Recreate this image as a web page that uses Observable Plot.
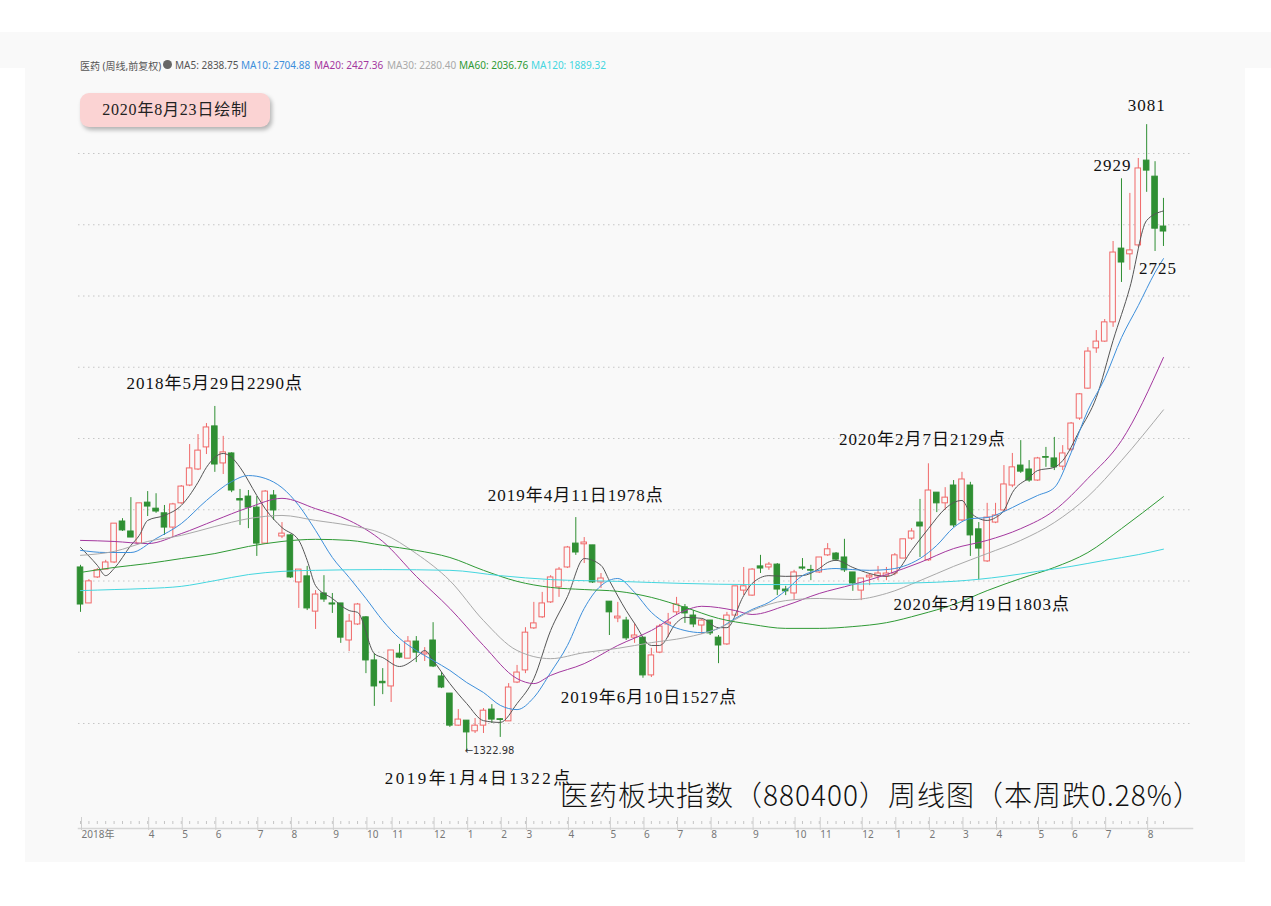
<!DOCTYPE html>
<html>
<head>
<meta charset="utf-8">
<script src="https://cdn.jsdelivr.net/npm/d3@7"></script>
<script src="https://cdn.jsdelivr.net/npm/@observablehq/plot@0.6"></script>
<style>
  body { margin: 0; background: #fff; }
  #page { position: relative; width: 1271px; height: 906px; overflow: hidden; background: #fff; }
  #topband { position: absolute; left: 0; top: 32px; width: 1271px; height: 36px; background: #f9f9f9; }
  #panel { position: absolute; left: 25px; top: 60px; width: 1220px; height: 802px; background: #f9f9f9; }
  #chart { position: absolute; left: 0; top: 0; }
  .hdr { position: absolute; top: 58px; font-size: 10px; white-space: nowrap; font-family: "Noto Sans", "Noto Sans CJK SC", sans-serif; color: #555; }
  #dot { position: absolute; left: 163px; top: 60px; width: 9px; height: 9px; border-radius: 50%; background: #666; }
  #badge { position: absolute; left: 80px; top: 93px; width: 190px; height: 34px; border-radius: 9px; background: #fbd3d3;
           box-shadow: 2px 3px 4px rgba(0,0,0,0.28); text-align: center; line-height: 34px;
           font-family: "Liberation Serif", "Noto Sans CJK SC", serif; font-size: 16px; color: #222; letter-spacing: 0.8px; }
  #title { position: absolute; left: 560px; top: 774px; white-space: nowrap; font-family: "Noto Sans CJK SC", sans-serif;
           font-size: 28px; font-weight: 300; color: #111; letter-spacing: 1px; }
  .anno text { letter-spacing: 1px; }
  .annoWide text { letter-spacing: 2.5px; }
</style>
</head>
<body>
<div id="page">
  <div id="topband"></div>
  <div id="panel"></div>
  <div id="chart"></div>
  <div id="hdrs"></div>
  <div id="dot"></div>
  <div id="badge"></div>
  <div id="title"></div>
</div>
<script>
// ---------- weekly OHLC (index 0 = first week of Feb 2018 … index 129 = week ending 2020-08-21)
const open = [1838,1737,1810,1832,1852,1967,1939,1905,2020,2003,1990,1950,2018,2068,2113,2175,2234,2130,2158,2030,
  2037,2006,1905,2040,1925,1928,1796,1813,1714,1765,1737,1737,1633,1678,1698,1577,1517,1504,1596,1582,
  1630,1594,1633,1532,1484,1394,1408,1378,1394,1439,1412,1406,1515,1549,1667,1698,1740,1782,1838,1905,
  1903,1900,1796,1742,1695,1689,1641,1641,1535,1599,1678,1712,1726,1703,1675,1689,1641,1622,1703,1773,
  1759,1841,1838,1846,1776,1765,1838,1831,1824,1872,1877,1866,1824,1773,1810,1813,1813,1821,1863,1919,
  1964,1858,2048,2018,2068,1970,2068,1945,1855,1964,1998,2068,2124,2113,2082,2148,2144,2121,2169,2256,
  2340,2453,2472,2526,2733,2717,2742,2980,2935,2795];
const high = [1844,1804,1835,1858,1961,1975,2034,2018,2051,2045,2012,2018,2068,2183,2211,2242,2290,2206,2160,2057,
  2054,2037,2054,2054,1964,1931,1832,1841,1773,1815,1765,1737,1706,1737,1700,1596,1554,1605,1622,1644,
  1644,1613,1683,1543,1484,1439,1408,1414,1442,1453,1414,1512,1563,1669,1740,1768,1815,1838,1897,1978,
  1922,1900,1821,1742,1740,1698,1681,1641,1611,1678,1709,1754,1734,1717,1692,1689,1647,1712,1785,1838,
  1835,1872,1852,1849,1785,1830,1863,1844,1866,1905,1880,1917,1824,1807,1821,1841,1838,1877,1917,1947,
  2029,2129,2048,2062,2082,2105,2077,1964,2018,2018,2124,2158,2194,2138,2147,2175,2203,2180,2245,2326,
  2455,2503,2534,2753,2929,2888,2986,3081,2977,2874];
const low = [1712,1737,1807,1832,1849,1939,1922,1905,1981,1990,1928,1922,2015,2065,2110,2155,2105,2099,2048,1956,
  1947,1869,1903,1970,1919,1807,1723,1717,1664,1740,1709,1625,1602,1675,1540,1448,1481,1459,1582,1582,
  1571,1574,1557,1498,1389,1392,1322.98,1372,1372,1400,1361,1406,1512,1540,1664,1695,1737,1754,1835,1872,
  1849,1793,1779,1647,1683,1633,1625,1527,1529,1596,1641,1703,1681,1669,1650,1647,1568,1619,1703,1759,
  1757,1821,1830,1759,1759,1745,1830,1801,1821,1869,1855,1824,1771,1745,1787,1801,1801,1815,1863,1914,
  1866,1855,1992,1998,1950,1967,1869,1803,1852,1961,1992,2062,2102,2077,2080,2119,2110,2110,2163,2251,
  2338,2439,2470,2512,2638,2672,2736,2891,2725,2739];
const close = [1734,1799,1830,1852,1961,1942,1922,2018,2009,1995,1950,2015,2065,2116,2166,2231,2127,2161,2054,2026,
  2006,1905,2051,1998,1933,1810,1832,1723,1762,1748,1734,1641,1686,1734,1577,1504,1513,1605,1585,1630,
  1599,1599,1560,1501,1394,1411,1375,1394,1436,1411,1410,1501,1543,1655,1681,1737,1810,1832,1894,1880,
  1908,1796,1807,1712,1700,1639,1647,1535,1591,1672,1683,1734,1709,1678,1689,1653,1619,1703,1785,1785,
  1832,1835,1846,1776,1771,1824,1835,1829,1866,1889,1860,1830,1793,1807,1815,1821,1821,1872,1917,1939,
  1953,2054,2018,2034,1956,2085,1928,1891,1978,1984,2071,2119,2107,2082,2144,2146,2119,2158,2242,2324,
  2444,2472,2526,2722,2694,2728,2958,2952,2789,2781];

// ---------- moving averages at the listed week indices
const ma5Idx = [0,2,3,4,6,7,8,10,12,14,15,17,18,19,21,22,24,26,27,28,30,32,33,35,36,38,40,41,42,44,46,48,50,52,54,56,58,60,62,63,
  65,66,68,69,71,72,74,76,77,79,80,82,84,86,88,89,90,92,94,96,97,99,101,103,104,105,106,108,109,110,111,113,114,116,117,119,121,123,125,127,129];
const ma5Val = [1894,1844,1815,1835,1900,1928,1970,1984,2012,2077,2119,2158,2147,2119,2040,2003,1950,1914,1858,1787,
  1751,1717,1712,1596,1585,1560,1585,1605,1577,1512,1456,1408,1403,1456,1526,1661,1756,1863,1844,1801,
  1717,1681,1619,1619,1683,1698,1695,1669,1669,1759,1793,1815,1813,1815,1835,1852,1858,1838,1821,1813,
  1821,1886,1947,2003,2020,2026,1992,1970,1978,1998,2048,2090,2110,2119,2138,2222,2315,2475,2624,2812,2838.75];
const ma10Idx = [0,3,6,9,12,15,18,20,22,24,26,28,30,32,34,36,38,40,42,44,46,48,50,52,54,56,58,60,62,64,66,68,70,72,74,76,78,80,
  82,84,86,88,90,92,94,96,98,100,102,104,106,108,110,112,114,116,118,120,122,124,126,128,129];
const ma10Val = [1886,1880,1880,1919,1961,2026,2079,2096,2088,2062,2012,1942,1866,1810,1751,1689,1639,1605,1577,1549,
  1515,1487,1451,1439,1473,1543,1619,1723,1787,1807,1768,1712,1678,1661,1655,1667,1695,1720,1740,1773,
  1815,1830,1835,1832,1830,1832,1841,1863,1900,1950,1975,1978,1995,2018,2040,2062,2160,2279,2368,2483,2573,2666,2704.88];
const ma20Idx = [0,4,8,12,16,20,24,28,32,36,40,44,48,52,54,56,60,64,68,72,74,78,80,84,88,92,96,100,104,108,112,116,120,124,129];
const ma20Val = [1914,1911,1905,1933,1970,2006,2032,2003,1970,1911,1813,1723,1619,1526,1512,1535,1568,1619,1661,1717,
  1729,1717,1706,1731,1765,1790,1818,1852,1891,1914,1947,1998,2088,2194,2427.36];
const ma30Idx = [0,4,8,12,16,20,24,28,32,36,40,44,48,52,56,60,64,68,72,76,80,84,88,92,96,100,104,108,112,116,120,124,129];
const ma30Val = [1872,1883,1911,1928,1953,1975,1984,1970,1956,1933,1877,1801,1689,1605,1582,1599,1611,1627,1641,1667,
  1717,1745,1751,1748,1765,1801,1841,1877,1914,1964,2037,2138,2280.40];
const ma60Idx = [0,4,8,12,16,20,24,28,32,36,40,44,48,52,56,60,64,68,72,76,80,84,88,92,96,100,104,108,112,116,120,124,129];
const ma60Val = [1824,1838,1849,1863,1877,1897,1911,1917,1914,1900,1886,1866,1830,1799,1782,1776,1771,1754,1726,1695,
  1678,1667,1667,1672,1683,1706,1734,1773,1807,1838,1880,1947,2036.76];
const ma120Idx = [0,4,8,12,16,20,24,28,36,44,50,56,64,72,80,88,96,104,110,114,118,122,126,129];
const ma120Val = [1773,1776,1779,1785,1801,1818,1827,1830,1832,1830,1815,1804,1799,1793,1790,1790,1793,1799,1813,1827,
  1841,1858,1874,1889.32];

// ---------- legend / header
const maNames = ["MA5","MA10","MA20","MA30","MA60","MA120"];
const maLast = ["2838.75","2704.88","2427.36","2280.40","2036.76","1889.32"];
const maColors = ["#555555","#3d8fdb","#a4389f","#a9a9a9","#2f9a35","#44d6df"];

// ---------- axis tick labels
const monthIdx = [0,8,12,16,21,25,30,34,37,42,46,50,53,58,63,67,71,75,80,85,88,93,97,101,105,109,114,118,122,127];
const monthLabels = ["2018年","4","5","6","7","8","9","10","11","12","1","2","3","4","5","6","7","8","9","10","11","12","1","2","3","4","5","6","7","8"];
const gridValues = [1400,1600,1800,2000,2200,2400,2600,2800,3000];

// ---------- annotations
const annoText = ["2018年5月29日2290点","2019年4月11日1978点","2020年2月7日2129点","2020年3月19日1803点",
  "2019年6月10日1527点","2019年1月4日1322点","3081","2929","2725"];
const annoIdx = [16,59,101,107,67,46,127,124,128];
const annoVal = [2290,1978,2129,1803,1527,1322,3081,2929,2725];
const lowMarkText = "←1322.98";
const titleText = "医药板块指数（880400）周线图（本周跌0.28%）";
const badgeText = "2020年8月23日绘制";
const headerText = "医药 (周线,前复权)";

// ---------- build
const RED = "#f06868", GREEN = "#2f8f33", BG = "#f9f9f9";
const candles = open.map((o, i) => ({i, open: o, high: high[i], low: low[i], close: close[i], up: close[i] >= o}));
const maSeries = [[ma5Idx, ma5Val],[ma10Idx, ma10Val],[ma20Idx, ma20Val],[ma30Idx, ma30Val],[ma60Idx, ma60Val],[ma120Idx, ma120Val]];
const labelOf = new Map(monthIdx.map((d, k) => [d, monthLabels[k]]));
const serif = "'Liberation Serif','DejaVu Serif','Noto Sans CJK SC',serif";
const offsets = [[0,-23],[0,-22],[-6,-24],[3,25],[6,19],[12,27],[0,-19],[-9,-13],[3,17]];

const marks = [
  Plot.gridY(gridValues, {stroke: "#c6c6c6", strokeOpacity: 1, strokeDasharray: "1.5,3.5"}),
  Plot.frame({anchor: "bottom", stroke: "#d6d6d6", strokeWidth: 1.5}),
  Plot.ruleX(candles, {x: "i", stroke: "#c4c4c4", insetTop: 739, insetBottom: 4}),
  Plot.axisX({ticks: monthIdx, tickFormat: d => labelOf.get(d), tickSize: 13, tickPadding: 0,
    stroke: "#cfcfcf", fill: "#777", fontSize: 10, textAnchor: "start", dx: 1, dy: -11,
    fontFamily: "'Noto Sans','Noto Sans CJK SC',sans-serif"}),
  Plot.ruleX(candles, {x: "i", y1: "low", y2: "high", stroke: d => d.up ? RED : GREEN, strokeWidth: 1}),
  Plot.rect(candles, {x1: d => d.i - 0.33, x2: d => d.i + 0.33,
    y1: d => Math.min(d.open, d.close), y2: d => Math.max(d.open, d.close),
    fill: d => d.up ? BG : GREEN, stroke: d => d.up ? RED : GREEN, strokeWidth: 1})
];
maSeries.forEach(([idx, val], k) => {
  marks.push(Plot.line(idx.map((x, j) => ({x, y: val[j]})), {x: "x", y: "y", stroke: maColors[k], strokeWidth: 1, curve: "monotone-x"}));
});
annoText.forEach((t, k) => {
  marks.push(Plot.text([k], {x: j => annoIdx[j], y: j => annoVal[j], text: j => annoText[j],
    dx: offsets[k][0], dy: offsets[k][1], fontSize: 17, fontFamily: serif, fill: "#111",
    className: k === 5 ? "annoWide" : "anno"}));
});
marks.push(Plot.text([0], {x: () => annoIdx[5], y: () => low[46], text: () => lowMarkText, textAnchor: "start", dx: -2,
  fontSize: 10, fill: "#333", fontFamily: "'DejaVu Sans','Noto Sans',sans-serif"}));

const chart = Plot.plot({
  width: 1271, height: 906,
  marginLeft: 78, marginRight: 79, marginTop: 82, marginBottom: 78,
  style: {background: "transparent", overflow: "visible"},
  x: {domain: [-0.24, 132.46], axis: null},
  y: {domain: [1400, 3000], range: [723, 153], axis: null},
  color: {type: "identity"},
  marks
});
document.getElementById("chart").appendChild(chart);

// header legend
const hdrs = document.getElementById("hdrs");
const hdrX = [175, 241, 314, 387, 459, 531];
const h0 = document.createElement("div"); h0.className = "hdr"; h0.style.left = "80px"; h0.textContent = headerText; hdrs.appendChild(h0);
maNames.forEach((n, k) => {
  const s = document.createElement("div");
  s.className = "hdr"; s.style.left = hdrX[k] + "px"; s.style.color = maColors[k];
  s.textContent = n + ": " + maLast[k];
  hdrs.appendChild(s);
});
document.getElementById("badge").textContent = badgeText;
document.getElementById("title").textContent = titleText;
</script>
</body>
</html>
